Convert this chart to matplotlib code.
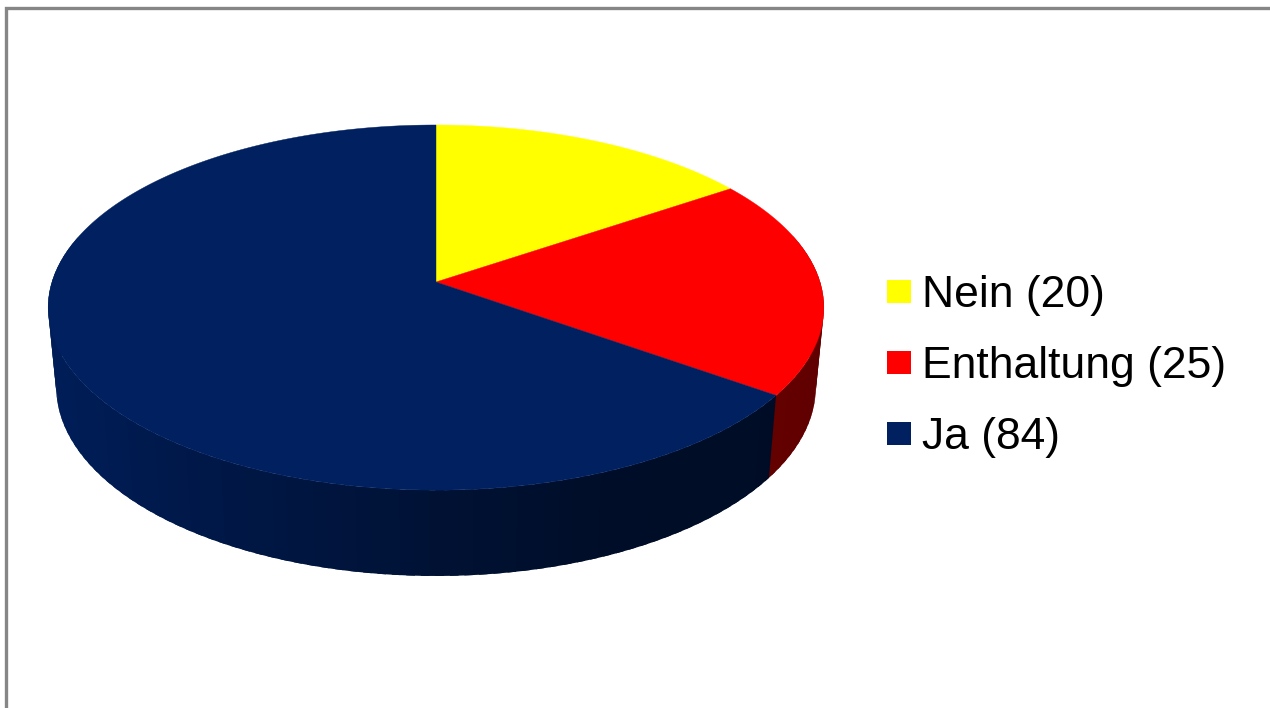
import numpy as np
import matplotlib
matplotlib.use('Agg')
import matplotlib.pyplot as plt
from matplotlib.patches import Polygon, Rectangle

labels = ['Nein', 'Enthaltung', 'Ja']
values = [20, 25, 84]
colors = ['#FFFF00', '#FF0000', '#002060']

plt.rcParams['font.family'] = ['Liberation Sans', 'DejaVu Sans']

# perspective used for the two discs of the pie
persp = 0.14
cx = 436


# angle is clockwise from 12 o'clock
def project(angle, a, b, y0):
    x = np.sin(angle)
    y = np.cos(angle)
    w = 1 + persp * y
    return cx + a * x / w, y0 - b * y / w


def top_disc(angle):
    return project(angle, 384, 179, 282)


def bottom_disc(angle):
    return project(angle, 376, 185.3, 360.5)


# side gets darker from left to right
def shade(color, x):
    factor = np.interp(x, [50, 150, 300, 436, 600, 820], [0.92, 0.8, 0.66, 0.54, 0.42, 0.38])
    return tuple(np.array(matplotlib.colors.to_rgb(color)) * factor)


fig = plt.figure(figsize=(12.7, 7.08), dpi=100)
ax = fig.add_axes([0, 0, 1, 1])
ax.set_xlim(0, 1270)
ax.set_ylim(708, 0)
ax.axis('off')

# grey frame, only top and left are inside the picture
ax.plot([5.5, 5.5, 1270], [708, 8, 8], color='#868686', lw=2.4, solid_joinstyle='miter')

edges = np.cumsum([0] + values) / sum(values) * 2 * np.pi

# side first, only the front part can be seen
# each piece runs a bit into the next one so no seams show
for i in range(len(values)):
    t = np.linspace(edges[i], edges[i + 1], int((edges[i + 1] - edges[i]) * 30) + 2)
    for t0, t1 in zip(t[:-1], t[1:]):
        if np.cos((t0 + t1) / 2) > 0.25:
            continue
        arc = np.linspace(t0, t1 + 0.02, 12)
        xt, yt = top_disc(arc)
        xb, yb = bottom_disc(arc)
        pts = list(zip(xt, yt)) + list(zip(xb[::-1], yb[::-1]))
        ax.add_patch(Polygon(pts, closed=True, facecolor=shade(colors[i], xt.mean()), edgecolor='none'))

# top of the pie
for i in range(len(values)):
    t = np.linspace(edges[i], edges[i + 1], 300)
    x, y = top_disc(t)
    pts = [(cx, 282.0)] + list(zip(x, y))
    ax.add_patch(Polygon(pts, closed=True, facecolor=colors[i], edgecolor=colors[i], lw=0.3))

# legend
legend_y = [292, 363, 434]
for i in range(len(values)):
    ax.add_patch(Rectangle((887, legend_y[i] - 12), 24, 23, facecolor=colors[i], edgecolor='none'))
    ax.text(922, legend_y[i] + 15, f'{labels[i]} ({values[i]})', fontsize=32, color='black',
            ha='left', va='baseline')

plt.savefig('out.png', dpi=100)
